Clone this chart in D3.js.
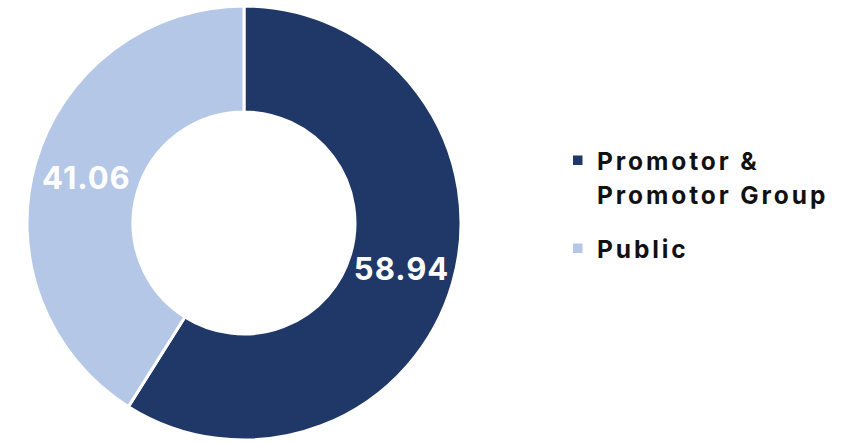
<!DOCTYPE html>
<html><head><meta charset="utf-8">
<script src="https://cdn.jsdelivr.net/npm/d3@7"></script>
<style>body{margin:0;background:#fff}svg{display:block}</style>
</head><body>
<svg id="c" width="856" height="443"></svg>
<script>
const categories = ["Promotor & Promotor Group", "Public"];
const values = [58.94, 41.06];
const legendLines = [["Promotor &", "Promotor Group"], ["Public"]];
const colors = ["#1f3867", "#b4c7e7"];

const svg = d3.select("#c");
const cx = 244, cy = 223, rOuter = 217, rInner = 111;
const g = svg.append("g").attr("transform", `translate(${cx},${cy})`);
const pie = d3.pie().sort(null).value(d => d)(values);
const arc = d3.arc().innerRadius(rInner).outerRadius(rOuter);
g.selectAll("path").data(pie).join("path")
  .attr("d", arc).attr("fill", (d,i) => colors[i])
  .attr("stroke", "#fff").attr("stroke-width", 3);
const labelArc = d3.arc().innerRadius((rInner+rOuter)/2).outerRadius((rInner+rOuter)/2);
g.selectAll("text").data(pie).join("text")
  .attr("transform", d => `translate(${labelArc.centroid(d)})`)
  .attr("text-anchor", "middle").attr("dy", "0.36em")
  .attr("fill", "#fff").attr("font-family", "Inter, sans-serif")
  .attr("font-weight", 700).attr("font-size", 31).attr("letter-spacing", 1)
  .text(d => d.data.toFixed(2));

const leg = svg.append("g").attr("font-family", "Inter, sans-serif").attr("font-weight", 700)
  .attr("font-size", 24.5).attr("fill", "#111").attr("letter-spacing", 2.9);
const starts = [170, 258];
legendLines.forEach((lines, i) => {
  leg.append("rect").attr("x", 573).attr("y", starts[i]-14.5).attr("width", 9.5).attr("height", 9.5).attr("fill", colors[i]);
  lines.forEach((t, j) => {
    leg.append("text").attr("x", 597).attr("y", starts[i] + j*34).text(t);
  });
});
</script>
</body></html>
